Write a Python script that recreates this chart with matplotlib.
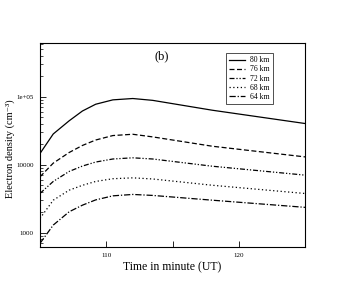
import matplotlib
matplotlib.use("Agg")
import matplotlib.pyplot as plt
import numpy as np

plt.rcParams['font.family'] = ['Liberation Serif', 'DejaVu Serif']

time_min = [105, 106, 107.2, 108.2, 109.2, 110.5, 112, 113.5, 118, 125]
ne_80km = [14700, 28500, 44500, 62000, 78000, 90500, 94700, 89000, 63700, 40600]
ne_76km = [6670, 10600, 15200, 19300, 23200, 27000, 28200, 25800, 18800, 13100]
ne_72km = [3800, 5700, 8000, 9600, 11000, 12200, 12700, 12200, 9550, 7060]
ne_68km = [1630, 3020, 4240, 5000, 5700, 6250, 6440, 6200, 5010, 3790]
ne_64km = [700, 1300, 2040, 2550, 3050, 3500, 3670, 3550, 3020, 2370]
labels = ['80 km', '76 km', '72 km', '68 km', '64 km']

series = [ne_80km, ne_76km, ne_72km, ne_68km, ne_64km]
styles = ['-', (0, (4, 2)), (0, (4, 1.5, 1, 1.5, 1, 1.5)), (0, (1, 2)), (0, (5, 1.5, 1, 1.5))]

fig = plt.figure(figsize=(3.46, 2.91), dpi=100)
ax = fig.add_axes([0.1156, 0.151, 0.766, 0.701])
for y, ls, lab in zip(series, styles, labels):
    ax.plot(time_min, y, color='black', linestyle=ls, linewidth=0.9, label=lab)

ax.set_yscale('log')
ax.set_xlim(105, 125)
ax.set_ylim(617, 6.2e5)
ax.set_xticks([110, 115, 120])
ax.set_xticklabels(['110', '', '120'])
ax.set_yticks([1000, 10000, 100000])
ax.set_yticklabels(['1000', '10000', '1e+05'])
ax.tick_params(axis='both', which='both', direction='in', labelsize=5, top=False, right=False)
ax.tick_params(axis='both', which='major', length=4, width=0.6, pad=4.5)
ax.tick_params(axis='y', which='minor', length=2, width=0.5)
for s in ax.spines.values():
    s.set_linewidth(0.8)
ax.set_xlabel('Time in minute (UT)', fontsize=8.5, labelpad=2)
ax.set_ylabel('Electron density (cm\u207b\u00b3)', fontsize=7.5)
ax.yaxis.set_label_coords(-0.096, 0.48)
ax.text(0.46, 0.965, '(b)', transform=ax.transAxes, ha='center', va='top', fontsize=9)
leg = ax.legend(loc='upper left', bbox_to_anchor=(0.70, 0.95), fontsize=5.5, frameon=True,
                fancybox=False, edgecolor='black', handlelength=2.2, handletextpad=0.6,
                borderpad=0.4, labelspacing=0.15, borderaxespad=0)
leg.get_frame().set_linewidth(0.6)
fig.savefig('out.png', dpi=100)
